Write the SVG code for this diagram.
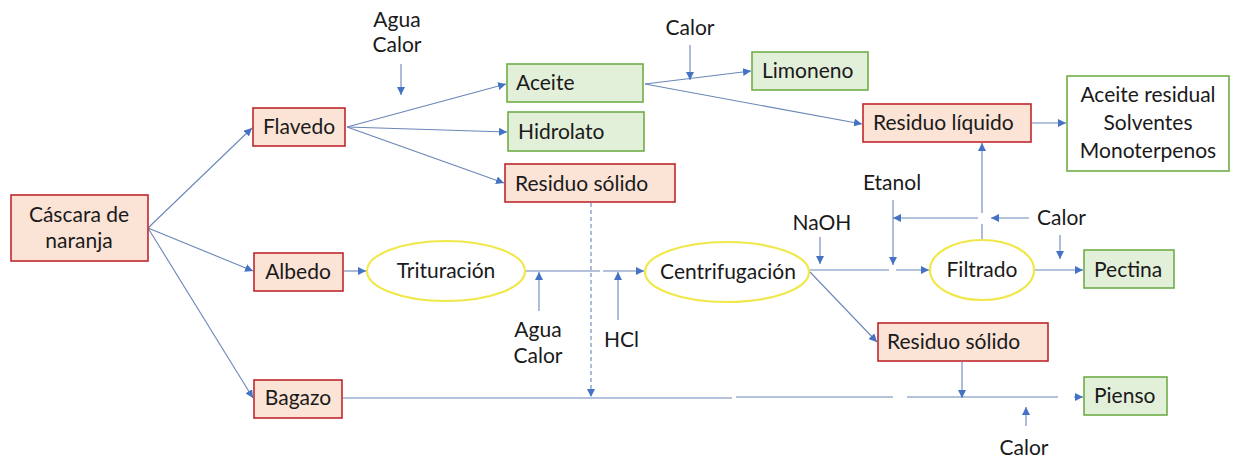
<svg xmlns="http://www.w3.org/2000/svg" width="1233" height="461" viewBox="0 0 1233 461">
<style>
.red{fill:#fbe3d6;stroke:#c0272d;stroke-width:1.6}
.grn{fill:#e2efd9;stroke:#70ad47;stroke-width:1.6}
.wgrn{fill:#ffffff;stroke:#70ad47;stroke-width:1.6}
.ell{fill:#ffffff;stroke:#f0e84a;stroke-width:2.2}
text{font-family:Lato,"Liberation Sans",sans-serif;font-size:21px;fill:#1a1a1a}
.c{text-anchor:middle}
.ln{stroke:#6a86b8;stroke-width:1.1;fill:none}
.dash{stroke-dasharray:4 3}
</style>
<defs>
<marker id="ah" viewBox="0 0 10 10" refX="10" refY="5" markerWidth="8" markerHeight="8" markerUnits="userSpaceOnUse" orient="auto">
<path d="M0,0 L10,5 L0,10 z" fill="#4472c4"/>
</marker>
</defs>
<rect width="1233" height="461" fill="#ffffff"/>
<g id="connectors">
<line class="ln" x1="148" y1="228" x2="252" y2="128" marker-end="url(#ah)"/>
<line class="ln" x1="148" y1="228" x2="253" y2="271" marker-end="url(#ah)"/>
<line class="ln" x1="148" y1="228" x2="253" y2="398" marker-end="url(#ah)"/>
<line class="ln" x1="347" y1="127" x2="506" y2="84" marker-end="url(#ah)"/>
<line class="ln" x1="347" y1="127" x2="507" y2="132" marker-end="url(#ah)"/>
<line class="ln" x1="347" y1="127" x2="504" y2="183" marker-end="url(#ah)"/>
<line class="ln" x1="401" y1="64" x2="401" y2="95" marker-end="url(#ah)"/>
<line class="ln" x1="645" y1="84" x2="751" y2="71" marker-end="url(#ah)"/>
<line class="ln" x1="690" y1="45" x2="690" y2="80" marker-end="url(#ah)"/>
<line class="ln" x1="645" y1="84" x2="862" y2="124" marker-end="url(#ah)"/>
<line class="ln" x1="1032" y1="123" x2="1066" y2="123" marker-end="url(#ah)"/>
<line class="ln" x1="344" y1="271" x2="366" y2="271" marker-end="url(#ah)"/>
<line class="ln" x1="525" y1="271" x2="600" y2="271"/>
<line class="ln" x1="603" y1="271" x2="644" y2="271" marker-end="url(#ah)"/>
<line class="ln" x1="539" y1="311" x2="539" y2="272" marker-end="url(#ah)"/>
<line class="ln" x1="618" y1="320" x2="618" y2="272" marker-end="url(#ah)"/>
<line class="ln dash" x1="591" y1="203" x2="591" y2="397" marker-end="url(#ah)"/>
<line class="ln" x1="343" y1="398" x2="732" y2="398"/>
<line class="ln" x1="736" y1="397" x2="893" y2="397"/>
<line class="ln" x1="907" y1="397" x2="1058" y2="397"/>
<line class="ln" x1="1074" y1="397" x2="1083" y2="397" marker-end="url(#ah)"/>
<line class="ln" x1="962" y1="362" x2="962" y2="398" marker-end="url(#ah)"/>
<line class="ln" x1="1026" y1="426" x2="1026" y2="407" marker-end="url(#ah)"/>
<line class="ln" x1="810" y1="270" x2="889" y2="270"/>
<line class="ln" x1="896" y1="270" x2="929" y2="270" marker-end="url(#ah)"/>
<line class="ln" x1="810" y1="272" x2="877" y2="342" marker-end="url(#ah)"/>
<line class="ln" x1="820" y1="237" x2="820" y2="264" marker-end="url(#ah)"/>
<line class="ln" x1="893" y1="200" x2="893" y2="265" marker-end="url(#ah)"/>
<line class="ln" x1="978" y1="218" x2="893" y2="218" marker-end="url(#ah)"/>
<line class="ln" x1="1029" y1="218" x2="991" y2="218" marker-end="url(#ah)"/>
<line class="ln" x1="982" y1="240" x2="982" y2="224"/>
<line class="ln" x1="982" y1="213" x2="982" y2="143" marker-end="url(#ah)"/>
<line class="ln" x1="1035" y1="270" x2="1083" y2="270" marker-end="url(#ah)"/>
<line class="ln" x1="1060" y1="235" x2="1060" y2="259" marker-end="url(#ah)"/>
</g>
<g id="n-cascara"><rect class="red" x="11" y="195" width="137" height="66"/><text class="c" x="79" y="222">Cáscara de</text><text class="c" x="79" y="248">naranja</text></g>
<g id="n-flavedo"><rect class="red" x="253" y="108" width="92" height="38"/><text class="c" x="299" y="134">Flavedo</text></g>
<g id="n-albedo"><rect class="red" x="254" y="253" width="89" height="38"/><text class="c" x="298" y="279">Albedo</text></g>
<g id="n-bagazo"><rect class="red" x="254" y="380" width="88" height="38"/><text class="c" x="298" y="405">Bagazo</text></g>
<g id="n-aceite"><rect class="grn" x="507" y="64" width="136" height="38"/><text x="516" y="90">Aceite</text></g>
<g id="n-hidrolato"><rect class="grn" x="508" y="112" width="136" height="39"/><text x="518" y="139">Hidrolato</text></g>
<g id="n-residuo-solido-1"><rect class="red" x="505" y="164" width="170" height="38"/><text x="515" y="191">Residuo sólido</text></g>
<g id="n-limoneno"><rect class="grn" x="752" y="52" width="116" height="38"/><text x="762" y="78">Limoneno</text></g>
<g id="n-residuo-liquido"><rect class="red" x="863" y="104" width="168" height="38"/><text x="873" y="130">Residuo líquido</text></g>
<g id="n-aceite-residual"><rect class="wgrn" x="1067" y="76" width="162" height="95"/><text class="c" x="1148" y="102">Aceite residual</text><text class="c" x="1148" y="130">Solventes</text><text class="c" x="1148" y="158">Monoterpenos</text></g>
<g id="n-trituracion"><ellipse class="ell" cx="446" cy="271" rx="79" ry="30"/><text class="c" x="446" y="278">Trituración</text></g>
<g id="n-centrifugacion"><ellipse class="ell" cx="727" cy="272" rx="82" ry="30"/><text class="c" x="728" y="279">Centrifugación</text></g>
<g id="n-filtrado"><ellipse class="ell" cx="982" cy="270" rx="52" ry="30"/><text class="c" x="982" y="277">Filtrado</text></g>
<g id="n-pectina"><rect class="grn" x="1084" y="250" width="90" height="38"/><text x="1094" y="277">Pectina</text></g>
<g id="n-residuo-solido-2"><rect class="red" x="878" y="323" width="170" height="38"/><text x="887" y="349">Residuo sólido</text></g>
<g id="n-pienso"><rect class="grn" x="1084" y="377" width="83" height="38"/><text x="1094" y="403">Pienso</text></g>
<g id="labels">
<text class="c" x="397" y="27">Agua</text><text class="c" x="397" y="52">Calor</text>
<text class="c" x="690" y="35">Calor</text>
<text class="c" x="892" y="190">Etanol</text>
<text class="c" x="822" y="230">NaOH</text>
<text x="1037" y="225">Calor</text>
<text class="c" x="538" y="337">Agua</text><text class="c" x="538" y="363">Calor</text>
<text x="604" y="347">HCl</text>
<text class="c" x="1024" y="455">Calor</text>
</g>
</svg>
